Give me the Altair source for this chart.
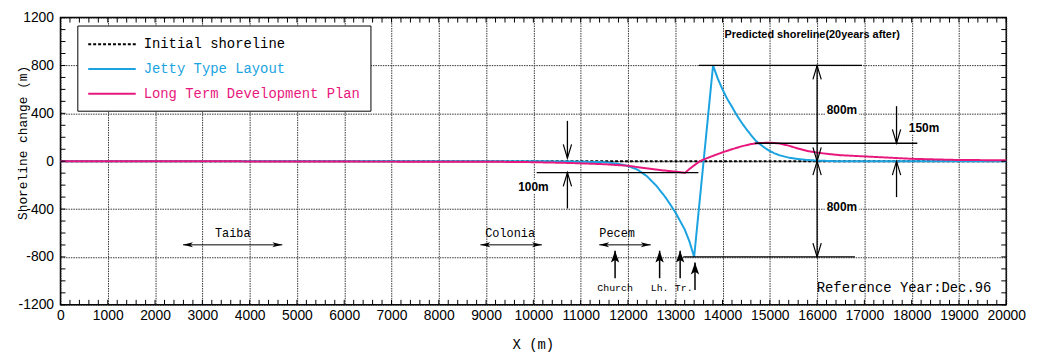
import altair as alt
import pandas as pd

# ---------------- data ----------------
SERIES = ["Initial shoreline", "Jetty Type Layout", "Long Term Development Plan"]
COLORS = ["black", "#1AA3E0", "#E8177D"]
DASHES = [[3, 2], [1, 0], [1, 0]]

INIT_X = [0, 20000]
INIT_Y = [0, 0]

JETTY_X = [0, 10000, 10800, 11500, 11800, 12000, 12200, 12400, 12600, 12800, 13000,
           13200, 13300, 13400, 13800, 13900, 14000, 14100, 14200, 14300, 14400, 14500,
           14600, 14700, 14800, 14900, 15000, 15100, 15200, 15400, 15600, 15800, 16000,
           16400, 20000]
JETTY_Y = [0, 0, -3, -8, -22, -40, -70, -125, -205, -305, -425,
           -570, -670, -800, 800, 690, 600, 520, 455, 385, 325, 270,
           220, 172, 140, 110, 85, 66, 50, 30, 18, 10, 5,
           0, 0]

PLAN_X = [0, 3500, 4200, 9000, 10000, 10800, 11500, 12000, 12300, 12700, 13000, 13210,
          13300, 13400, 13520, 13650, 13800, 14000, 14200, 14400, 14600, 14800, 15000,
          15200, 15400, 15600, 15800, 16000, 16200, 16500, 17000, 17500, 18000, 18500,
          19000, 20000]
PLAN_Y = [0, 0, -3, -4, -8, -15, -25, -38, -55, -75, -87, -97,
          -65, -35, 0, 22, 45, 74, 100, 124, 143, 152, 155,
          148, 130, 105, 85, 72, 62, 50, 40, 30, 20, 15,
          10, 8]

# annotation geometry (data units)
HLINE_X1 = [13500, 13170, 14680, 10070]
HLINE_X2 = [16950, 16800, 18120, 13490]
HLINE_Y = [800, -800, 150, -95]

VLINE_X = [16000, 17680, 17680, 10720, 10720]
VLINE_Y1 = [800, 460, 0, 337, -95]
VLINE_Y2 = [-800, 150, -300, 25, -395]

UP_CHEV_X = [16000, 16000, 17680, 10720]
UP_CHEV_Y = [800, 0, 0, -95]
DOWN_CHEV_X = [16000, 16000, 17680, 10720]
DOWN_CHEV_Y = [0, -800, 150, 25]

DIM_TEXT = ["800m", "800m", "150m", "100m"]
DIM_X = [16524, 16524, 18262, 10000]
DIM_Y = [427, -386, 280, -214]

REGION_NAMES = ["Taiba", "Colonia", "Pecem"]
REGION_TEXT_X = [3644, 9508, 11770]
REGION_TEXT_Y = [-600, -600, -597]
REGION_X1 = [2592, 8880, 11393]
REGION_X2 = [4690, 10180, 12482]
REGION_Y = [-699, -699, -699]

ARROW_X = [11728, 12670, 13104, 13418]
ARROW_TIP = [-748, -748, -748, -847]
ARROW_BASE = [-978, -978, -978, -1077]

SITE_NAMES = ["Church", "Lh.", "Tr."]
SITE_X = [11728, 12670, 13180]
SITE_Y = [-1060, -1060, -1060]

TITLE_TEXT = ["Predicted shoreline(20years after)"]
TITLE_X = [15895]
TITLE_Y = [1052]

REF_TEXT = ["Reference Year:Dec.96"]
REF_X = [19686]
REF_Y = [-1060]

X_TICKS = list(range(0, 20001, 1000))
Y_TICKS = list(range(-1200, 1201, 400))
X_MINOR = list(range(0, 20001, 200))
Y_MINOR = list(range(-1200, 1201, 100))

# ---------------- build ----------------
W, H = 955, 290
xs = alt.Scale(domain=[0, 20000], nice=False, zero=False)
ys = alt.Scale(domain=[-1200, 1200], nice=False, zero=False)

lines_df = pd.concat([
    pd.DataFrame({"series": SERIES[0], "x": INIT_X, "y": INIT_Y}),
    pd.DataFrame({"series": SERIES[1], "x": JETTY_X, "y": JETTY_Y}),
    pd.DataFrame({"series": SERIES[2], "x": PLAN_X, "y": PLAN_Y}),
], ignore_index=True)

label_color_expr = (
    "datum.label == 'Jetty Type Layout' ? '#1AA3E0' : "
    "(datum.label == 'Long Term Development Plan' ? '#E8177D' : 'black')"
)

legend = alt.Legend(
    title=None, orient="none", legendX=17, legendY=8, direction="vertical",
    fillColor="white", strokeColor="black", padding=10, rowPadding=9,
    symbolType="M-1,0H5", symbolSize=256, symbolStrokeWidth=2, labelOffset=39,
    labelFont="Liberation Mono", labelFontSize=14, labelLimit=0,
    labelColor={"expr": label_color_expr},
)

GRID_COLOR = "#333"
GRID_DASH = [1.5, 1]

x_axis = alt.Axis(
    values=X_TICKS, title="X (m)", tickSize=0, domain=False,
    labelFont="Liberation Sans", labelFontSize=14, labelColor="black", labelPadding=4,
    labelExpr="datum.value + ''", labelOverlap=False, labelFlush=False,
    grid=True, gridColor=GRID_COLOR, gridDash=GRID_DASH, gridWidth=1,
    titleFont="Liberation Mono", titleFontSize=14, titleFontWeight="normal", titleColor="black",
    titleX=477, titleY=40, titleBaseline="middle", titleAlign="center",
)
y_axis = alt.Axis(
    values=Y_TICKS, title="Shoreline change (m)", tickSize=0, domain=False,
    labelFont="Liberation Sans", labelFontSize=14, labelColor="black", labelPadding=7,
    labelExpr="datum.value + ''", labelOverlap=False, labelFlush=False,
    grid=True, gridColor=GRID_COLOR, gridDash=GRID_DASH, gridWidth=1,
    titleFont="Liberation Mono", titleFontSize=13, titleFontWeight="normal", titleColor="black",
    titleX=-38, titleY=126, titleAngle=270, titleBaseline="middle", titleAlign="center",
)


def X(f):
    return alt.X(f, scale=xs, axis=x_axis)


def Y(f):
    return alt.Y(f, scale=ys, axis=y_axis)


lines = alt.Chart(lines_df).mark_line(strokeWidth=2).encode(
    x=X("x:Q"),
    y=Y("y:Q"),
    color=alt.Color("series:N", scale=alt.Scale(domain=SERIES, range=COLORS), legend=legend),
    strokeDash=alt.StrokeDash("series:N", scale=alt.Scale(domain=SERIES, range=DASHES), legend=legend),
    detail="series:N",
)

# minor ticks (inside)
xm = pd.DataFrame({"v": X_MINOR})
ym = pd.DataFrame({"v": Y_MINOR})
tick_b = alt.Chart(xm).mark_rule(color="black", strokeWidth=1).encode(
    x=X("v:Q"), y=alt.value(H), y2=alt.value(H - 5))
tick_t = alt.Chart(xm).mark_rule(color="black", strokeWidth=1).encode(
    x=X("v:Q"), y=alt.value(0), y2=alt.value(5))
tick_l = alt.Chart(ym).mark_rule(color="black", strokeWidth=1).encode(
    y=Y("v:Q"), x=alt.value(0), x2=alt.value(5))
tick_r = alt.Chart(ym).mark_rule(color="black", strokeWidth=1).encode(
    y=Y("v:Q"), x=alt.value(W), x2=alt.value(W - 5))

hl_df = pd.DataFrame({"x1": HLINE_X1, "x2": HLINE_X2, "y": HLINE_Y})
hlines = alt.Chart(hl_df).mark_rule(color="black", strokeWidth=1.3).encode(
    x=X("x1:Q"), x2="x2:Q", y=Y("y:Q"))

vl_df = pd.DataFrame({"x": VLINE_X, "y1": VLINE_Y1, "y2": VLINE_Y2})
vlines = alt.Chart(vl_df).mark_rule(color="black", strokeWidth=1.3).encode(
    x=X("x:Q"), y=Y("y1:Q"), y2="y2:Q")

up_df = pd.DataFrame({"x": UP_CHEV_X, "y": UP_CHEV_Y})
up_chev = alt.Chart(up_df).mark_point(
    shape="M-0.6,1L0,-1L0.6,1", filled=False, size=196, stroke="black",
    strokeWidth=1.2, opacity=1, yOffset=7).encode(x=X("x:Q"), y=Y("y:Q"))
dn_df = pd.DataFrame({"x": DOWN_CHEV_X, "y": DOWN_CHEV_Y})
dn_chev = alt.Chart(dn_df).mark_point(
    shape="M-0.6,-1L0,1L0.6,-1", filled=False, size=196, stroke="black",
    strokeWidth=1.2, opacity=1, yOffset=-7).encode(x=X("x:Q"), y=Y("y:Q"))

dim_df = pd.DataFrame({"t": DIM_TEXT, "x": DIM_X, "y": DIM_Y})
dim_halo = alt.Chart(dim_df).mark_text(
    font="Liberation Sans", fontSize=12, fontWeight="bold", stroke="white",
    strokeWidth=5, color="white", baseline="middle").encode(x=X("x:Q"), y=Y("y:Q"), text="t:N")
dim_text = alt.Chart(dim_df).mark_text(
    font="Liberation Sans", fontSize=12, fontWeight="bold", color="black",
    baseline="middle").encode(x=X("x:Q"), y=Y("y:Q"), text="t:N")

reg_df = pd.DataFrame({"name": REGION_NAMES, "tx": REGION_TEXT_X, "ty": REGION_TEXT_Y,
                       "x1": REGION_X1, "x2": REGION_X2, "y": REGION_Y})
reg_text = alt.Chart(reg_df).mark_text(
    font="Liberation Mono", fontSize=12, color="black", baseline="middle").encode(
    x=X("tx:Q"), y=Y("ty:Q"), text="name:N")
reg_line = alt.Chart(reg_df).mark_rule(color="black", strokeWidth=1).encode(
    x=X("x1:Q"), x2="x2:Q", y=Y("y:Q"))
reg_left = alt.Chart(reg_df).mark_point(
    shape="M-1,0L1,-0.5L0.5,0L1,0.5Z", filled=True, size=100, color="black",
    opacity=1, xOffset=5).encode(x=X("x1:Q"), y=Y("y:Q"))
reg_right = alt.Chart(reg_df).mark_point(
    shape="M1,0L-1,-0.5L-0.5,0L-1,0.5Z", filled=True, size=100, color="black",
    opacity=1, xOffset=-5).encode(x=X("x2:Q"), y=Y("y:Q"))

arr_df = pd.DataFrame({"x": ARROW_X, "tip": ARROW_TIP, "base": ARROW_BASE})
arr_stem = alt.Chart(arr_df).mark_rule(color="black", strokeWidth=1.5).encode(
    x=X("x:Q"), y=Y("tip:Q"), y2="base:Q")
arr_head = alt.Chart(arr_df).mark_point(
    shape="M0,-1L0.7,1L0,0.55L-0.7,1Z", filled=True, size=144, color="black",
    opacity=1, yOffset=6).encode(x=X("x:Q"), y=Y("tip:Q"))

site_df = pd.DataFrame({"name": SITE_NAMES, "x": SITE_X, "y": SITE_Y})
site_text = alt.Chart(site_df).mark_text(
    font="Liberation Mono", fontSize=10, color="black", baseline="middle").encode(
    x=X("x:Q"), y=Y("y:Q"), text="name:N")

title_df = pd.DataFrame({"t": TITLE_TEXT, "x": TITLE_X, "y": TITLE_Y})
title_text = alt.Chart(title_df).mark_text(
    font="Liberation Sans", fontSize=11, fontWeight="bold", color="black",
    baseline="middle").encode(x=X("x:Q"), y=Y("y:Q"), text="t:N")

ref_df = pd.DataFrame({"t": REF_TEXT, "x": REF_X, "y": REF_Y})
ref_text = alt.Chart(ref_df).mark_text(
    font="Liberation Mono", fontSize=14, color="black", align="right",
    baseline="middle").encode(x=X("x:Q"), y=Y("y:Q"), text="t:N")

chart = alt.layer(
    lines, tick_b, tick_t, tick_l, tick_r,
    hlines, vlines, up_chev, dn_chev, dim_halo, dim_text,
    reg_line, reg_left, reg_right, reg_text,
    arr_stem, arr_head, site_text, title_text, ref_text,
).properties(
    width=W, height=H,
    padding={"left": 53, "top": 8, "right": 25, "bottom": 50},
    autosize=alt.AutoSizeParams(type="none"),
    background="white",
).configure_view(stroke="black", strokeWidth=1.5)

chart.save("out.html", embed_options={"renderer": "svg", "actions": False})
